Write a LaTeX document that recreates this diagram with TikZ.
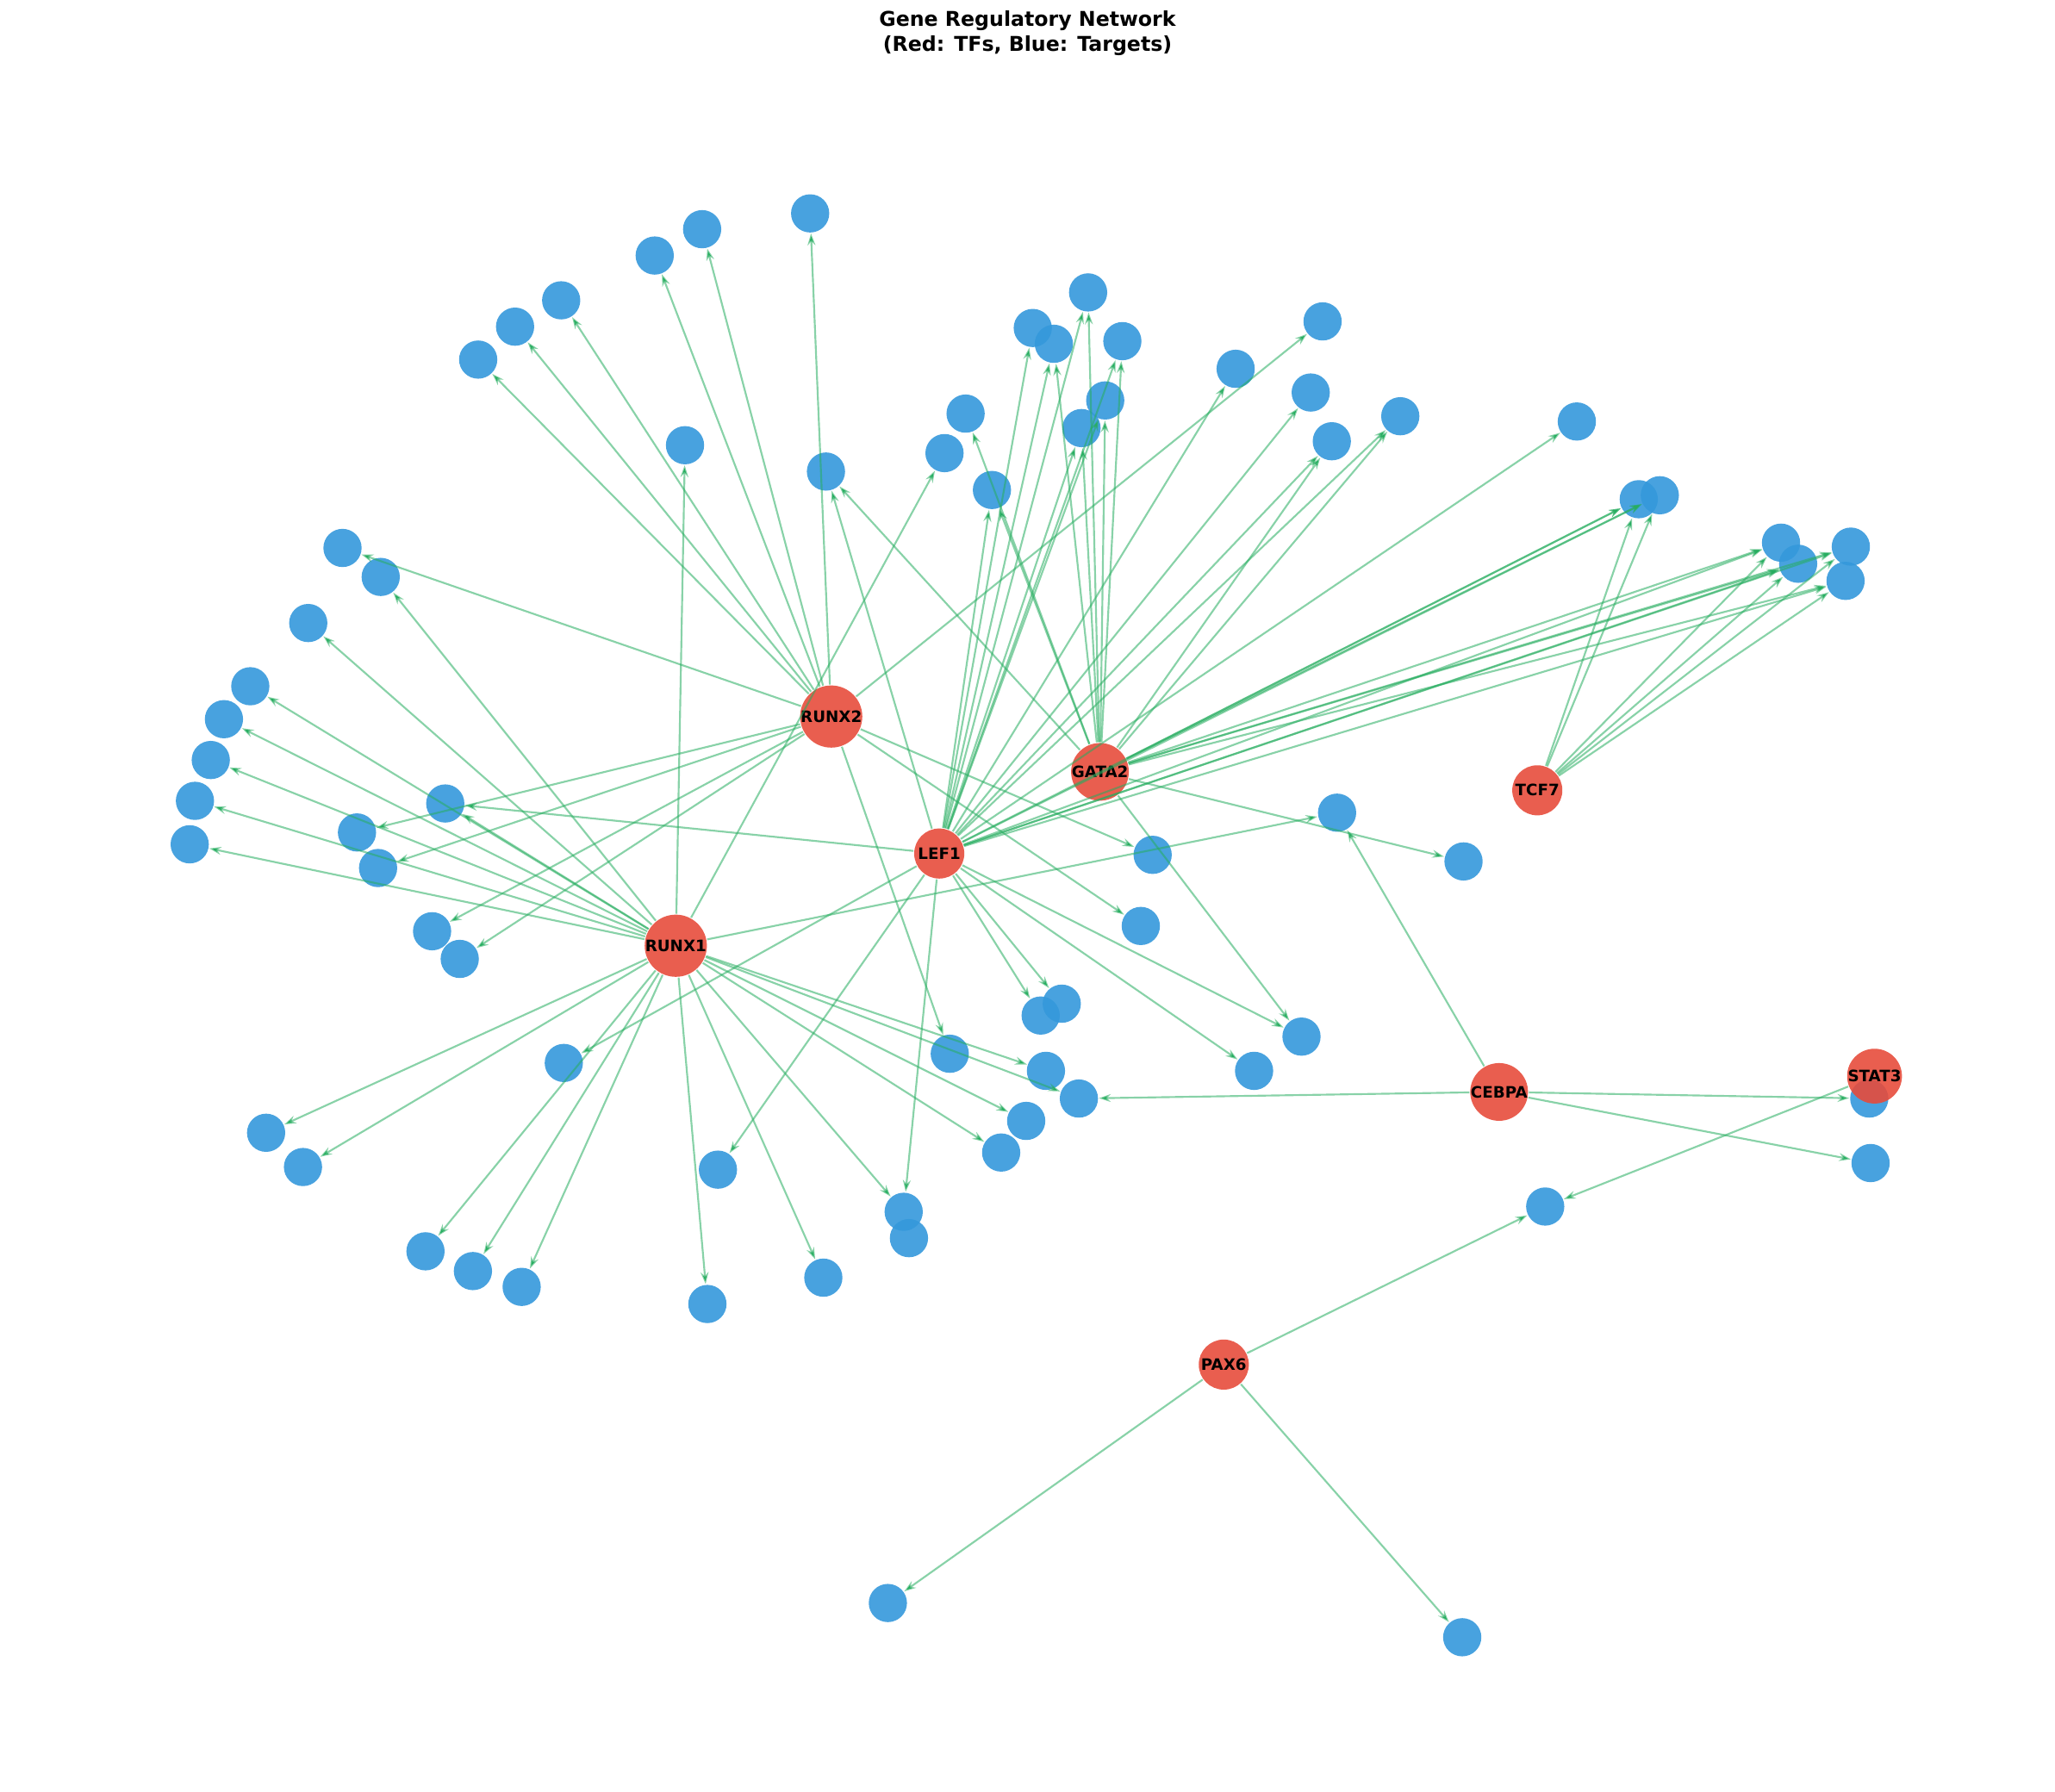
\documentclass[tikz,border=0pt]{standalone}
\usepackage{fontspec}
\setmainfont{DejaVu Sans}
\usetikzlibrary{arrows.meta}
\definecolor{tfred}{RGB}{231,76,60}
\definecolor{tgtblue}{RGB}{52,152,219}
\definecolor{edgegreen}{RGB}{46,204,113}
\begin{document}
\begin{tikzpicture}[
    x=0.01cm, y=-0.01cm,
    tf/.style={circle, fill=tfred, fill opacity=0.9, text opacity=1, inner sep=0pt,
        minimum size=0.38cm, font=\fontsize{3.4}{4}\selectfont\bfseries},
    tgt/.style={circle, fill=tgtblue, fill opacity=0.9, inner sep=0pt, minimum size=0.29cm},
    arr/.style={-{Stealth[length=0.09cm, width=0.06cm]}, line width=0.4pt,
        draw=edgegreen!85!black, draw opacity=0.55}
]
\useasboundingbox (0,0) rectangle (1560,1360);
% Title
\node[align=center, font=\fontsize{4.4}{5.4}\selectfont\bfseries] (title) at (780,25)
    {Gene Regulatory Network\\(Red: TFs, Blue: Targets)};

% Targets
\foreach \n/\x/\y in {1/615/162, 2/533/174, 3/497/194, 4/426/228, 5/391/248,
    6/363/273, 7/520/338, 8/627/358, 9/826/222, 10/784/249, 11/800/261,
    12/852/259, 13/1004/244, 14/938/280, 15/995/298, 16/839/304, 17/821/325,
    18/733/314, 19/717/344, 20/753/372, 21/1011/335, 22/1063/316, 23/1197/320,
    24/1244/379, 25/1260/376, 26/1352/412, 27/1365/428, 28/1405/415,
    29/1401/441, 30/260/416, 31/289/438, 32/234/473, 33/190/521, 34/170/546,
    35/160/577, 36/148/608, 37/144/641, 38/338/610, 39/271/632, 40/287/659,
    41/328/707, 42/349/728, 43/1015/617, 44/875/649, 45/1111/654, 46/866/703,
    47/806/762, 48/790/771, 49/988/787, 50/952/813, 51/721/800, 52/794/813,
    53/819/834, 54/779/851, 55/760/875, 56/428/807, 57/202/860, 58/230/886,
    59/545/888, 60/686/920, 61/690/940, 62/323/950, 63/359/965, 64/396/977,
    65/537/990, 66/625/970, 67/1419/834, 68/1420/883, 69/1173/916,
    70/674/1217, 71/1110/1243}
    \node[tgt] (t\n) at (\x,\y) {};

% Transcription factors
\node[tf] (runx2) at (631,544) {RUNX2};
\node[tf] (gata2) at (835,586) {GATA2};
\node[tf] (lef1) at (713,648) {LEF1};
\node[tf] (runx1) at (513,718) {RUNX1};
\node[tf] (tcf7) at (1167,600) {TCF7};
\node[tf] (cebpa) at (1138,829) {CEBPA};
\node[tf] (stat3) at (1423,817) {STAT3};
\node[tf] (pax6) at (929,1036) {PAX6};

% Regulation edges
\foreach \t in {1,2,3,4,5,6,13,30,39,40,41,42,44,46,51}
    \draw[arr] (runx2) -- (t\t);
\foreach \t in {7,19,31,32,33,34,35,36,37,38,43,52,53,54,55,57,58,60,62,63,64,65,66}
    \draw[arr] (runx1) -- (t\t);
\foreach \t in {8,9,10,11,12,14,15,16,17,20,21,22,23,24,25,26,27,28,29,38,47,48,49,50,56,59,60}
    \draw[arr] (lef1) -- (t\t);
\foreach \t in {8,9,11,12,16,17,18,20,21,22,24,25,26,27,28,29,45,49}
    \draw[arr] (gata2) -- (t\t);
\foreach \t in {24,25,26,27,28,29}
    \draw[arr] (tcf7) -- (t\t);
\foreach \t in {43,53,67,68}
    \draw[arr] (cebpa) -- (t\t);
\draw[arr] (stat3) -- (t69);
\foreach \t in {69,70,71}
    \draw[arr] (pax6) -- (t\t);
\end{tikzpicture}
\end{document}
